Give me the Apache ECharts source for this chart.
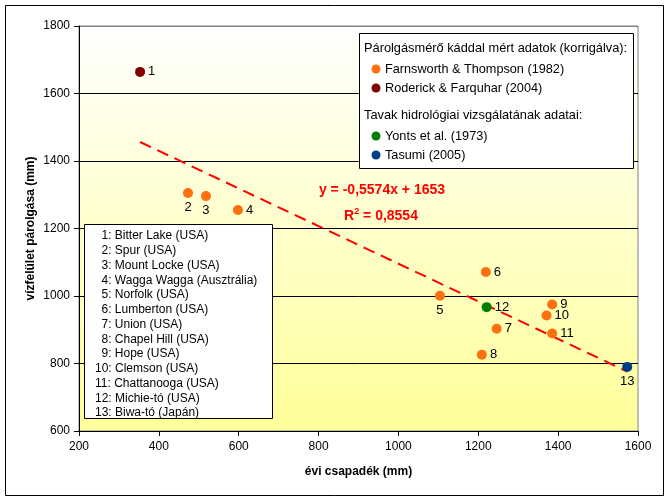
<!DOCTYPE html>
<html><head><meta charset="utf-8">
<script src="https://cdn.jsdelivr.net/npm/echarts@6/dist/echarts.min.js"></script>
<style>html,body{margin:0;padding:0;background:#fff}#c{width:670px;height:501px}</style>
</head><body><div id="c"></div>
<script>
// ---- data ----
const pointIds = [1,2,3,4,5,6,7,8,9,10,11,12,13];
const precipitation = [353,473,518,598,1104,1219,1246,1209,1385,1371,1385,1221,1573];
const evaporation = [1664,1305,1296,1255,1001,1071,903,826,975,942,889,967,790];
const sourceOf = ['Roderick & Farquhar (2004)','Farnsworth & Thompson (1982)','Farnsworth & Thompson (1982)','Farnsworth & Thompson (1982)','Farnsworth & Thompson (1982)','Farnsworth & Thompson (1982)','Farnsworth & Thompson (1982)','Farnsworth & Thompson (1982)','Farnsworth & Thompson (1982)','Farnsworth & Thompson (1982)','Farnsworth & Thompson (1982)','Yonts et al. (1973)','Tasumi (2005)'];
const seriesNames = ['Farnsworth & Thompson (1982)','Roderick & Farquhar (2004)','Yonts et al. (1973)','Tasumi (2005)'];
const siteNames = ['1: Bitter Lake (USA)','2: Spur (USA)','3: Mount Locke (USA)','4: Wagga Wagga (Ausztrália)','5: Norfolk (USA)','6: Lumberton (USA)','7: Union (USA)','8: Chapel Hill (USA)','9: Hope (USA)','10: Clemson (USA)','11: Chattanooga (USA)','12: Michie-tó (USA)','13: Biwa-tó (Japán)'];
const trendSlope = -0.5574, trendIntercept = 1653, trendR2 = '0,8554';
const trendRange = [353, 1573];
const legendHeading1 = 'Párolgásmérő káddal mért adatok (korrigálva):';
const legendHeading2 = 'Tavak hidrológiai vizsgálatának adatai:';
const xTitle = 'évi csapadék (mm)', yTitle = 'vízfelület párolgása (mm)';

// ---- styles ----
const FONT = '"Liberation Sans", Arial, sans-serif';
const colors = {'Farnsworth & Thompson (1982)':'#FF6F0F','Roderick & Farquhar (2004)':'#800000','Yonts et al. (1973)':'#008000','Tasumi (2005)':'#003F87'};
const belowLabels = [2,3,5,13];

const chart = echarts.init(document.getElementById('c'));
const scatterSeries = seriesNames.map(name => ({
  name, type:'scatter', symbol:'circle', symbolSize:10, z:5,
  itemStyle:{color:colors[name], opacity:1},
  data: pointIds.map((id,i)=>({id,i})).filter(o=>sourceOf[o.i]===name).map(o=>({
    value:[precipitation[o.i], evaporation[o.i]],
    label:{show:true, formatter:String(o.id), position: belowLabels.includes(o.id)?'bottom':'right', distance:3,
      color:'#000', fontSize:13, fontFamily:FONT}
  }))
}));
const trendData = trendRange.map(x=>[x, trendSlope*x+trendIntercept]);

// legend box graphic
const lg = [];
const lx = 359, ly = 33;
const LF = '12.7px ';
lg.push({type:'rect', shape:{x:lx+0.5,y:ly+0.5,width:274,height:135}, style:{fill:'#fff',stroke:'#000',lineWidth:1}, z:10});
const legendRows = [
  {t:legendHeading1, y:48, h:true},
  {t:seriesNames[0], y:69},
  {t:seriesNames[1], y:88},
  {t:legendHeading2, y:115, h:true},
  {t:seriesNames[2], y:136},
  {t:seriesNames[3], y:155}
];
legendRows.forEach(r=>{
  if(r.h){
    lg.push({type:'text', x:364, y:r.y, style:{text:r.t, font:'12.8px '+FONT, fill:'#000', textVerticalAlign:'middle'}, z:11});
  } else {
    lg.push({type:'circle', shape:{cx:376,cy:r.y,r:4.5}, style:{fill:colors[r.t]}, z:11});
    lg.push({type:'text', x:385, y:r.y, style:{text:r.t, font:LF+FONT, fill:'#000', textVerticalAlign:'middle'}, z:11});
  }
});
// site box
lg.push({type:'rect', shape:{x:84.5,y:224.5,width:188,height:194}, style:{fill:'#fff',stroke:'#000',lineWidth:1}, z:10});
siteNames.forEach((s,i)=>{
  const twoDigit = s.indexOf(':')>1;
  lg.push({type:'text', x: twoDigit?95:101.5, y:236+i*14.75, style:{text:s, font:'12px '+FONT, fill:'#000', textVerticalAlign:'middle'}, z:11});
});
// equation
lg.push({type:'text', x:382, y:190, style:{text:'y = '+String(trendSlope).replace('.',',')+'x + '+trendIntercept, font:'bold 14px '+FONT, fill:'#FF0000', textAlign:'center', textVerticalAlign:'middle'}, z:11});
lg.push({type:'text', x:381, y:216, style:{text:'R{s|2} = '+trendR2, font:'bold 14px '+FONT, fill:'#FF0000', textAlign:'center', textVerticalAlign:'middle', rich:{s:{fontSize:9, fontWeight:'bold', fontFamily:FONT, fill:'#FF0000', verticalAlign:'top', padding:[0,0,8,0]}}}, z:11});
// outer border
lg.push({type:'rect', shape:{x:5.5,y:5.5,width:658,height:490}, style:{fill:null,stroke:'#000',lineWidth:1}, z:0, silent:true});

chart.setOption({
  animation:false,
  textStyle:{fontFamily:FONT},
  grid:{left:79, right:32, top:26, bottom:70, show:true, borderColor:'#808080', borderWidth:1,
    backgroundColor:new echarts.graphic.LinearGradient(0,0,0,1,[{offset:0,color:'#FFFFFF'},{offset:1,color:'#FFFF99'}])},
  xAxis:{type:'value', min:200, max:1600, interval:200,
    name:xTitle, nameLocation:'middle', nameGap:35, nameMoveOverlap:false, nameTextStyle:{fontWeight:'bold', fontSize:12, color:'#000', fontFamily:FONT},
    axisLine:{show:true, lineStyle:{color:'#000'}}, axisTick:{show:true, length:5, lineStyle:{color:'#000'}},
    axisLabel:{color:'#000', fontSize:12, margin:10, fontFamily:FONT, formatter:v=>String(v)}, splitLine:{show:false}},
  yAxis:{type:'value', min:600, max:1800, interval:200,
    name:yTitle, nameLocation:'middle', nameGap:42, nameMoveOverlap:false, nameTextStyle:{fontWeight:'bold', fontSize:12, color:'#000', fontFamily:FONT},
    axisLine:{show:true, lineStyle:{color:'#000'}}, axisTick:{show:true, length:5, lineStyle:{color:'#000'}},
    axisLabel:{color:'#000', fontSize:12, margin:9, fontFamily:FONT, formatter:v=>String(v)},
    splitLine:{show:true, lineStyle:{color:['#000','#000','#000','#000','#000','#000','#808080'], width:1}}},
  series:[
    {name:'trend', type:'line', data:trendData, symbol:'none', z:3, silent:true,
     lineStyle:{color:'#FF0000', width:2, type:[12,7]}},
    ...scatterSeries
  ],
  graphic:lg
});
</script></body></html>
